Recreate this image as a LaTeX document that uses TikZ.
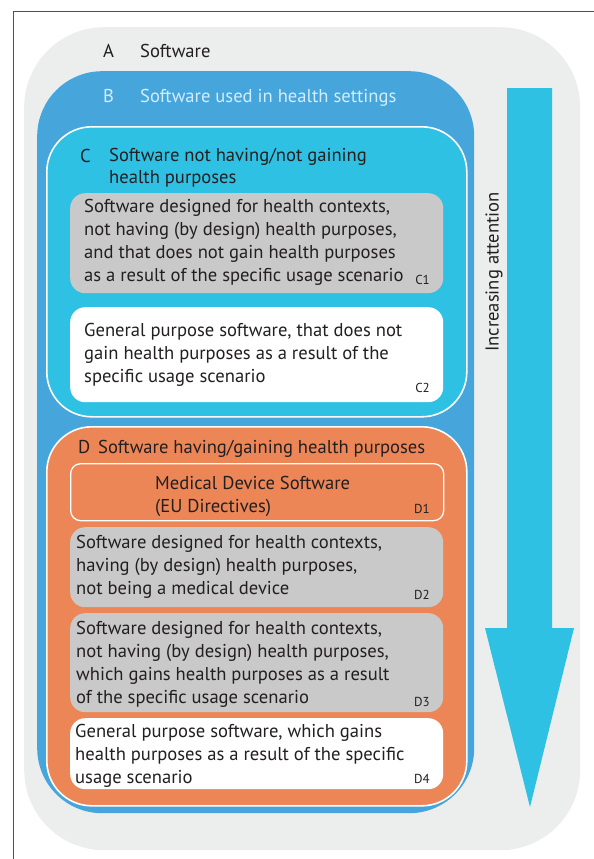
\documentclass[tikz,border=0pt]{standalone}
\usepackage{fontspec}
\setmainfont{PT Sans}
\usetikzlibrary{positioning}
\usepackage{xcolor}
\definecolor{ShellGray}{HTML}{ECEDED}
\definecolor{HealthBlue}{HTML}{46A6DC}
\definecolor{PurposeCyan}{HTML}{2FC1E3}
\definecolor{GainOrange}{HTML}{EC8656}
\definecolor{BoxGray}{HTML}{C9C9C9}
\definecolor{InkDark}{HTML}{231F20}
\definecolor{PaleText}{HTML}{D4ECF9}
\definecolor{FrameLine}{HTML}{505050}

\begin{document}
\begin{tikzpicture}[x=1pt, y=-1pt,
            region/.style={rectangle, anchor=north west, inner sep=0pt},
            group/.style={region, draw=white, line width=1.6pt, rounded corners=45pt},
            item/.style={region, rounded corners=15pt, minimum width=373pt},
            txt/.style={anchor=base west, inner sep=0pt, align=left, color=InkDark, font=\fontsize{18.6}{22.7}\selectfont},
            head/.style={txt, font=\fontsize{18.6}{21.5}\selectfont},
            tag/.style={anchor=base east, inner sep=0pt, color=InkDark, font=\fontsize{13}{14}\selectfont}
        ]
            \useasboundingbox (0,0) rectangle (594,859);
            % Frame of the page
            \draw[FrameLine, line width=1pt] (13,859) -- (13,12) -- (594,12);

            % Nested sets A, B
            \node[region, fill=ShellGray, rounded corners=80pt, minimum width=556pt, minimum height=823pt] (setA) at (24,27) {};
            \node[region, fill=HealthBlue, rounded corners=65pt, minimum width=437pt, minimum height=742pt] (setB) at (37,71) {};
            \node[head] (keyA) at (103,57) {A};
            \node[head] (labA) at (140,57) {Software};
            \node[head, color=PaleText] (keyB) at (103,102) {B};
            \node[head, color=PaleText] (labB) at (140,102) {Software used in health settings};

            % Set C (multi-line texts sit on their last baseline)
            \node[group, fill=PurposeCyan, minimum width=420pt, minimum height=290pt] (setC) at (46,126) {};
            \node[head] (keyC) at (80,162) {C};
            \node[head] (labC) at (109,183) {Software not having/not gaining\\health purposes};
            \node[item, fill=BoxGray, minimum height=100pt] (c1) at (70,193) {};
            \node[item, fill=white, minimum height=95pt] (c2) at (70,307) {};
            \node[txt] (c1txt) at (84,281) {Software designed for health contexts,\\not having (by design) health purposes,\\and that does not gain health purposes\\as a result of the specific usage scenario};
            \node[txt] (c2txt) at (84,382) {General purpose software, that does not\\gain health purposes as a result of the\\specific usage scenario};
            \node[tag] (c1tag) at (430,284) {C1};
            \node[tag] (c2tag) at (430,392) {C2};

            % Set D
            \node[group, fill=GainOrange, minimum width=420pt, minimum height=379pt] (setD) at (46,426) {};
            \node[head] (keyD) at (78,453) {D};
            \node[head] (labD) at (98,453) {Software having/gaining health purposes};
            \node[item, fill=GainOrange, draw=white, line width=1.3pt, rounded corners=10pt, minimum height=57pt] (d1) at (70,463) {};
            \node[item, fill=BoxGray, minimum height=80pt] (d2) at (70,527) {};
            \node[item, fill=BoxGray, minimum height=99pt] (d3) at (70,613) {};
            \node[item, fill=white, minimum height=71pt] (d4) at (70,718) {};
            \node[txt] (d1txt) at (155,512) {Medical Device Software\\(EU Directives)};
            \node[txt] (d2txt) at (76,594) {Software designed for health contexts,\\having (by design) health purposes,\\not being a medical device};
            \node[txt] (d3txt) at (76,703) {Software designed for health contexts,\\not having (by design) health purposes,\\which gains health purposes as a result\\of the specific usage scenario};
            \node[txt] (d4txt) at (75,783) {General purpose software, which gains\\health purposes as a result of the specific\\usage scenario};
            \node[tag] (d1tag) at (430,513) {D1};
            \node[tag] (d2tag) at (430,599) {D2};
            \node[tag] (d3tag) at (430,706) {D3};
            \node[tag] (d4tag) at (430,783) {D4};

            % Attention arrow
            \fill[PurposeCyan] (507,88) -- (552,88) -- (552,628) -- (574,628) -- (530,807) -- (485,628) -- (507,628) -- cycle;
            \node[rotate=90, inner sep=0pt, color=InkDark, font=\fontsize{18.6}{22}\selectfont] (attn) at (494,272) {Increasing attention};
        \end{tikzpicture}
\end{document}
